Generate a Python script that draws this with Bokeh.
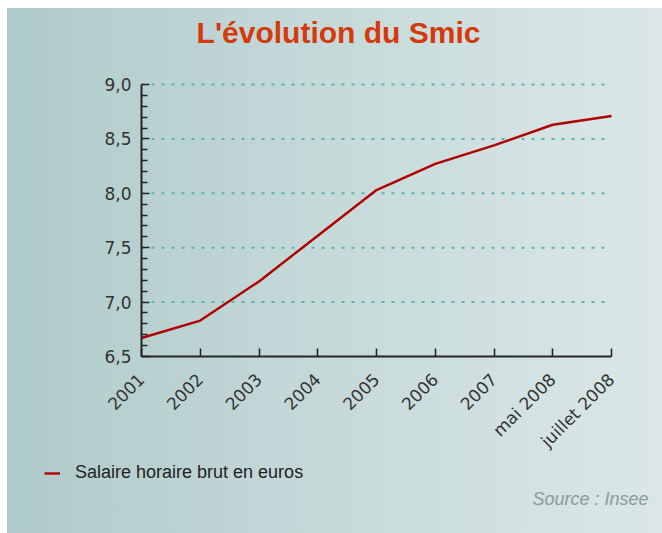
import math
from bokeh.plotting import figure
from bokeh.models import FixedTicker, Label, Legend, LegendItem, Range1d
from bokeh.embed import file_html
from bokeh.resources import INLINE

# ---- data ----
periods = ["2001", "2002", "2003", "2004", "2005", "2006", "2007", "mai 2008", "juillet 2008"]
smic = [6.67, 6.83, 7.19, 7.61, 8.03, 8.27, 8.44, 8.63, 8.71]
y_ticks = [6.5, 7.0, 7.5, 8.0, 8.5, 9.0]
y_tick_labels = ["6,5", "7,0", "7,5", "8,0", "8,5", "9,0"]
y_minor = [6.6, 6.7, 6.8, 6.9, 7.1, 7.2, 7.3, 7.4, 7.6, 7.7, 7.8, 7.9,
           8.1, 8.2, 8.3, 8.4, 8.6, 8.7, 8.8, 8.9]
title_text = "L'évolution du Smic"
series_name = "Salaire horaire brut en euros"
source_text = "Source : Insee"

xs = list(range(len(periods)))
y_lo, y_hi = y_ticks[0], y_ticks[-1]

FONT = "Liberation Sans"
TICK_FONT = "DejaVu Sans"

# frame covers the whole canvas; axes are pinned inside it
W, H = 662, 533
left, right, top, bottom = 141, 611, 84, 356   # pixel box of the plotting area
px_x = (right - left) / (len(periods) - 1)
px_y = (bottom - top) / (y_hi - y_lo)
x_range = Range1d(-left / px_x, (len(periods) - 1) + (W - right) / px_x)
y_range = Range1d(y_lo - (H - bottom) / px_y, y_hi + top / px_y)

p = figure(width=W, height=H, output_backend="svg", toolbar_location=None,
           x_range=x_range, y_range=y_range,
           min_border_left=0, min_border_right=0, min_border_top=0,
           min_border_bottom=0)
p.styles = {
    "background-color": "white",
    "background-image": "linear-gradient(to right, #afcaca 0%, #c4d8d8 45%, #dbe7e7 100%)",
    "background-position": "7px 8px",
    "background-size": "calc(100% - 7px) calc(100% - 8px)",
    "background-repeat": "no-repeat",
}
p.background_fill_color = None
p.border_fill_color = None
p.outline_line_color = None
p.xgrid.grid_line_color = None
p.ygrid.grid_line_color = None

# dotted horizontal guides at the major y ticks (within the plotting span)
p.segment(x0=[xs[0]] * (len(y_ticks) - 1), x1=[xs[-1]] * (len(y_ticks) - 1),
          y0=y_ticks[1:], y1=y_ticks[1:],
          line_color="#5ab4b4", line_width=2, line_dash="3 7")

line = p.line(xs, smic, line_color="#b00000", line_width=2.4)

# axes
for ax in (p.xaxis[0], p.yaxis[0]):
    ax.axis_line_color = "#262626"
    ax.axis_line_width = 2
    ax.major_tick_line_color = "#262626"
    ax.major_tick_line_width = 1.6
    ax.major_tick_out = 0
    ax.major_label_text_font = TICK_FONT
    ax.major_label_text_font_size = "17px"
    ax.major_label_text_color = "#333333"

xa = p.xaxis[0]
xa.fixed_location = y_lo
xa.bounds = (xs[0], xs[-1])
xa.ticker = FixedTicker(ticks=xs)
xa.major_label_overrides = {i: s for i, s in enumerate(periods)}
xa.major_label_orientation = math.pi / 4
xa.major_tick_in = 8
xa.minor_tick_line_color = None
xa.major_label_standoff = 20

ya = p.yaxis[0]
ya.fixed_location = xs[0]
ya.bounds = (y_lo, y_hi)
ya.ticker = FixedTicker(ticks=y_ticks, minor_ticks=y_minor)
ya.major_label_overrides = {t: s for t, s in zip(y_ticks, y_tick_labels)}
ya.major_tick_in = 8
ya.minor_tick_in = 6
ya.minor_tick_out = 0
ya.minor_tick_line_color = "#262626"
ya.minor_tick_line_width = 1.6
ya.major_label_standoff = 10

# title
p.add_layout(Label(x=(338 - left) / px_x, y=y_hi + (top - 32) / px_y,
                   text=title_text, text_align="center", text_baseline="middle",
                   text_font=FONT, text_font_size="30px", text_font_style="bold",
                   text_color="#d43a0c"))
# source
p.add_layout(Label(x=(648 - left) / px_x, y=y_lo - (498 - bottom) / px_y,
                   text=source_text, text_align="right", text_baseline="middle",
                   text_font=FONT, text_font_size="18px", text_font_style="italic",
                   text_color="#8a9c9c"))

legend = Legend(items=[LegendItem(label=series_name, renderers=[line])],
                location=(44, 50), orientation="vertical",
                background_fill_color=None, border_line_color=None,
                padding=0, margin=0, spacing=0,
                glyph_width=16, glyph_height=20, label_height=20,
                label_standoff=15,
                label_text_font=FONT, label_text_font_size="18px",
                label_text_color="#222222")
p.add_layout(legend, "center")

open("out.html", "w").write(file_html(p, INLINE))
